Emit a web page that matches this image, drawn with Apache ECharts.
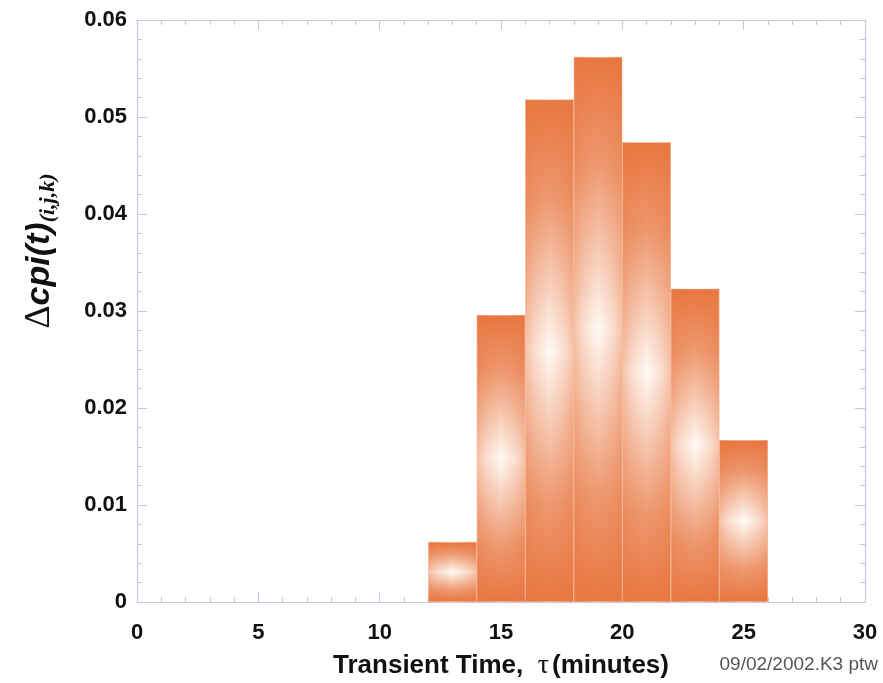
<!DOCTYPE html>
<html>
<head>
<meta charset="utf-8">
<script src="https://cdn.jsdelivr.net/npm/echarts@6/dist/echarts.min.js"></script>
<style>html,body{margin:0;padding:0;background:#fff}#c{width:883px;height:683px}</style>
</head>
<body>
<div id="c"></div>
<script>
// bins of width 2 minutes, 0..30
const binEdges = [0,2,4,6,8,10,12,14,16,18,20,22,24,26,28,30];
const barStarts = [12, 14, 16, 18, 20, 22, 24];
const barValues = [0.0062, 0.0296, 0.0518, 0.0562, 0.0474, 0.0323, 0.0167];
const xTicks = [0, 5, 10, 15, 20, 25, 30];
const yTicks = [0, 0.01, 0.02, 0.03, 0.04, 0.05, 0.06];

const categories = binEdges.slice(0, -1).map((e, i) => e + '-' + binEdges[i + 1]);
const binData = binEdges.slice(0, -1).map(e => {
  const k = barStarts.indexOf(e);
  return k >= 0 ? barValues[k] : null;
});

const ORANGE = '#e8763f';
const frame = '#c6c6dc';

const chart = echarts.init(document.getElementById('c'));

const valueXAxis = (pos, showLabel) => ({
  type: 'value', position: pos, min: xTicks[0], max: xTicks[xTicks.length - 1], interval: 5,
  axisLine: { show: true, onZero: false, lineStyle: { color: frame, width: 1.2 } },
  axisTick: { show: true, inside: true, length: 10, lineStyle: { color: frame } },
  minorTick: { show: true, splitNumber: 5, length: 5, lineStyle: { color: frame } },
  splitLine: { show: false },
  axisLabel: { show: showLabel, margin: 20, fontFamily: 'Liberation Sans, Arial, sans-serif', fontWeight: 'bold', fontSize: 22, color: '#111' }
});
const valueYAxis = (pos, showLabel) => ({
  type: 'value', position: pos, min: yTicks[0], max: yTicks[yTicks.length - 1], interval: 0.01,
  axisLine: { show: true, onZero: false, lineStyle: { color: frame, width: 1.2 } },
  axisTick: { show: true, inside: true, length: 10, lineStyle: { color: frame } },
  minorTick: { show: true, splitNumber: 5, length: 5, lineStyle: { color: frame } },
  splitLine: { show: false },
  axisLabel: {
    show: showLabel, margin: 10, fontFamily: 'Liberation Sans, Arial, sans-serif', fontWeight: 'bold', fontSize: 22, color: '#111',
    formatter: v => (v === 0 ? '0' : v.toFixed(2))
  }
});

chart.setOption({
  animation: false,
  grid: { left: 137, top: 20, right: 18, bottom: 81, containLabel: false, outerBoundsMode: 'none' },
  xAxis: [
    { type: 'category', data: categories, show: false, boundaryGap: true },
    Object.assign(valueXAxis('bottom', true), {
      name: '{a|Transient Time,  }{t|τ}{a|(minutes)}',
      nameLocation: 'middle', nameGap: 50,
      nameTextStyle: {
        rich: {
          a: { fontFamily: 'Liberation Sans, Arial, sans-serif', fontWeight: 'bold', fontSize: 26, color: '#111' },
          t: { fontFamily: 'Liberation Serif, Times New Roman, serif', fontSize: 28, color: '#111', padding: [0, 3, 0, 0] }
        }
      }
    }),
    valueXAxis('top', false)
  ],
  yAxis: [
    Object.assign(valueYAxis('left', true), {
      name: '{d|Δ}{c|cpi(t)}{s|(i,j,k)}',
      nameLocation: 'middle', nameGap: 78, nameRotate: 90,
      nameTextStyle: {
        padding: [0, 0, 0, 120],
        rich: {
          d: { fontFamily: 'Liberation Serif, Times New Roman, serif', fontSize: 36, color: '#111' },
          c: { fontFamily: 'Liberation Sans, Arial, sans-serif', fontWeight: 'bold', fontStyle: 'italic', fontSize: 34, color: '#111' },
          s: { fontFamily: 'Liberation Serif, Times New Roman, serif', fontStyle: 'italic', fontWeight: 'bold', fontSize: 22, color: '#111', verticalAlign: 'bottom', padding: [16, 0, 0, 0] }
        }
      }
    }),
    valueYAxis('right', false)
  ],
  series: [
    {
      type: 'bar', xAxisIndex: 0, yAxisIndex: 0, data: binData,
      barGap: '-100%', barCategoryGap: '0%',
      itemStyle: {
        color: new echarts.graphic.LinearGradient(0, 0, 0, 1, [
          { offset: 0, color: ORANGE },
          { offset: 0.2, color: '#ee9a72' },
          { offset: 0.5, color: '#fffaf6' },
          { offset: 0.8, color: '#ee9a72' },
          { offset: 1, color: ORANGE }
        ]),
        borderColor: 'rgba(255,225,205,0.7)', borderWidth: 0.6
      }
    },
    {
      type: 'bar', xAxisIndex: 0, yAxisIndex: 0, data: binData,
      barGap: '-100%', barCategoryGap: '0%', silent: true,
      itemStyle: {
        color: new echarts.graphic.LinearGradient(0, 0, 1, 0, [
          { offset: 0, color: 'rgba(232,118,63,0.42)' },
          { offset: 0.2, color: 'rgba(232,118,63,0.2)' },
          { offset: 0.5, color: 'rgba(232,118,63,0)' },
          { offset: 0.8, color: 'rgba(232,118,63,0.2)' },
          { offset: 1, color: 'rgba(232,118,63,0.42)' }
        ])
      }
    }
  ],
  graphic: [
    {
      type: 'text', right: 5, top: 655,
      style: { text: '09/02/2002.K3 ptw', fontFamily: 'Liberation Sans, Arial, sans-serif', fontSize: 19, fill: '#555' }
    }
  ]
});
</script>
</body>
</html>
